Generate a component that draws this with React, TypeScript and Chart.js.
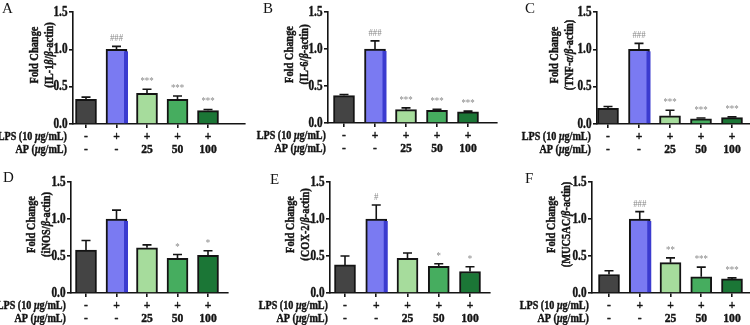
import React, { useEffect, useRef } from "react";
import { Chart, registerables } from "chart.js";

Chart.register(...registerables);

// ---- shared table / axis content ----
const lpsRow = ["-", "+", "+", "+", "+"];
const apRow = ["-", "-", "25", "50", "100"];
const rowHeaders = ["LPS (10 μg/mL)", "AP (μg/mL)"];
const yTickValues = [0, 0.5, 1.0, 1.5];
const yTickLabels = ["0.0", "0.5", "1.0", "1.5"];
const titleLine1 = "Fold Change";
const barColors = ["#444444", "#7a7af2", "#a6dc9c", "#46ad5f", "#1b7636"];

// ---- per-panel values (mean, SEM, significance marks) ----
const panelLetters = ["A", "B", "C", "D", "E", "F"];
const targetLabels = [
  "(IL-1β/β-actin)",
  "(IL-6/β-actin)",
  "(TNF-α/β-actin)",
  "(iNOS/β-actin)",
  "(COX-2/β-actin)",
  "(MUC5AC/β-actin)",
];

const il1bMean = [0.33, 1.0, 0.41, 0.33, 0.18];
const il1bErr = [0.03, 0.04, 0.055, 0.045, 0.015];
const il1bSig = ["", "###", "***", "***", "***"];

const il6Mean = [0.37, 1.0, 0.18, 0.17, 0.15];
const il6Err = [0.015, 0.11, 0.025, 0.015, 0.01];
const il6Sig = ["", "###", "***", "***", "***"];

const tnfMean = [0.21, 1.0, 0.11, 0.07, 0.085];
const tnfErr = [0.025, 0.08, 0.075, 0.01, 0.01];
const tnfSig = ["", "###", "***", "***", "***"];

const inosMean = [0.58, 1.0, 0.61, 0.47, 0.51];
const inosErr = [0.13, 0.12, 0.04, 0.05, 0.06];
const inosSig = ["", "", "", "*", "*"];

const coxMean = [0.38, 1.0, 0.47, 0.36, 0.29];
const coxErr = [0.12, 0.19, 0.07, 0.035, 0.065];
const coxSig = ["", "#", "", "*", "*"];

const mucMean = [0.25, 1.0, 0.41, 0.22, 0.19];
const mucErr = [0.05, 0.1, 0.065, 0.13, 0.015];
const mucSig = ["", "###", "**", "***", "***"];

const means = [il1bMean, il6Mean, tnfMean, inosMean, coxMean, mucMean];
const errs = [il1bErr, il6Err, tnfErr, inosErr, coxErr, mucErr];
const sigs = [il1bSig, il6Sig, tnfSig, inosSig, coxSig, mucSig];

// ---- page geometry of each panel (page pixels) ----
type Frame = {
  left: number; top: number; w: number; h: number;
  axisX: number; axisEnd: number; plotTop: number; plotBottom: number;
  firstX: number; step: number; titleGap: number; headerGap: number;
  letterX: number; letterY: number;
};
const frames: Frame[] = [
  { left: 0, top: 0, w: 250, h: 160, axisX: 73, axisEnd: 245, plotTop: 12, plotBottom: 124, firstX: 86, step: 30.5, titleGap: 38, headerGap: 6, letterX: 2, letterY: 13 },
  { left: 250, top: 0, w: 250, h: 160, axisX: 328, axisEnd: 497, plotTop: 12, plotBottom: 123, firstX: 344, step: 31, titleGap: 38, headerGap: 2, letterX: 13, letterY: 13 },
  { left: 500, top: 0, w: 250, h: 160, axisX: 597, axisEnd: 750, plotTop: 12, plotBottom: 124, firstX: 608, step: 31, titleGap: 42, headerGap: 6, letterX: 25, letterY: 13 },
  { left: 0, top: 160, w: 250, h: 165, axisX: 71, axisEnd: 228, plotTop: 182, plotBottom: 293, firstX: 86, step: 30.5, titleGap: 39, headerGap: 5, letterX: 3, letterY: 22 },
  { left: 250, top: 160, w: 250, h: 165, axisX: 330, axisEnd: 490, plotTop: 182, plotBottom: 293, firstX: 345, step: 31.25, titleGap: 39, headerGap: 2, letterX: 20, letterY: 23.5 },
  { left: 500, top: 160, w: 250, h: 165, axisX: 592, axisEnd: 750, plotTop: 182, plotBottom: 293, firstX: 609, step: 30.75, titleGap: 40, headerGap: 3, letterX: 25, letterY: 23 },
];

const SERIF = '"Liberation Serif", "Times New Roman", serif';
const INK = "#141414";

type TextOpts = {
  size: number; bold?: boolean; italic?: boolean;
  align?: "left" | "center" | "right"; squeeze?: number;
  color?: string; angle?: number; baseline?: CanvasTextBaseline;
};

// Greek letters are set in italic inside the labels.
function splitRuns(s: string) {
  const runs: { t: string; greek: boolean }[] = [];
  let cur = "";
  let curGreek = false;
  for (const ch of s) {
    const g = /[α-ωμ]/.test(ch);
    if (cur && g !== curGreek) {
      runs.push({ t: cur, greek: curGreek });
      cur = "";
    }
    cur += ch;
    curGreek = g;
  }
  if (cur) runs.push({ t: cur, greek: curGreek });
  return runs;
}

// Narrow-set serif text (optionally rotated); bold text gets a hairline outline for weight.
function drawLabel(ctx: CanvasRenderingContext2D, s: string, x: number, y: number, o: TextOpts) {
  const runs = splitRuns(s);
  const fontFor = (greek: boolean) =>
    `${greek || o.italic ? "italic " : "normal "}${o.bold ? "bold" : "normal"} ${o.size}px ${SERIF}`;
  ctx.save();
  let total = 0;
  const widths = runs.map((r) => {
    ctx.font = fontFor(r.greek);
    const w = ctx.measureText(r.t).width;
    total += w;
    return w;
  });
  ctx.translate(x, y);
  if (o.angle) ctx.rotate(o.angle);
  ctx.scale(o.squeeze ?? 1, 1);
  let cx = o.align === "right" ? -total : o.align === "center" ? -total / 2 : 0;
  const color = o.color ?? INK;
  ctx.fillStyle = color;
  ctx.strokeStyle = color;
  ctx.lineWidth = 0.45;
  ctx.lineJoin = "round";
  ctx.textAlign = "left";
  ctx.textBaseline = o.baseline ?? "middle";
  runs.forEach((r, i) => {
    ctx.font = fontFor(r.greek);
    ctx.fillText(r.t, cx, 0);
    if (o.bold) ctx.strokeText(r.t, cx, 0);
    cx += widths[i];
  });
  ctx.restore();
}

function makeDecorPlugin(idx: number, frame: Frame) {
  return {
    id: "panelDecor" + idx,
    afterDatasetsDraw(chart: any) {
      const ctx: CanvasRenderingContext2D = chart.ctx;
      const yScale = chart.scales.y;
      const meta = chart.getDatasetMeta(0);
      const mean = means[idx];
      const err = errs[idx];
      const sig = sigs[idx];
      meta.data.forEach((el: any, i: number) => {
        const { x, y, base, width } = el.getProps(["x", "y", "base", "width"], true);
        // darker right edge on the LPS-only bar
        if (i === 1) {
          ctx.save();
          ctx.fillStyle = "#3b3bcf";
          ctx.fillRect(x + width / 2 - 3, y + 2, 4, base - y - 2);
          ctx.restore();
        }
        const topPx = yScale.getPixelForValue(mean[i] + err[i]);
        ctx.save();
        ctx.strokeStyle = INK;
        ctx.lineWidth = 1.6;
        ctx.beginPath();
        ctx.moveTo(x, y);
        ctx.lineTo(x, topPx);
        ctx.moveTo(x - 4.5, topPx);
        ctx.lineTo(x + 4.5, topPx);
        ctx.stroke();
        ctx.restore();
        if (sig[i]) {
          drawLabel(ctx, sig[i], x, topPx - 5, {
            size: 11, align: "center", squeeze: 0.8, color: "#888888", baseline: "alphabetic",
          });
        }
      });
    },
    afterDraw(chart: any) {
      const ctx: CanvasRenderingContext2D = chart.ctx;
      const area = chart.chartArea;
      const xScale = chart.scales.x;
      const yScale = chart.scales.y;
      // y tick labels
      yTickValues.forEach((v, i) => {
        drawLabel(ctx, yTickLabels[i], area.left - 5.5, yScale.getPixelForValue(v), {
          size: 14, bold: true, align: "right", squeeze: 0.8,
        });
      });
      // treatment table under the axis
      const row1 = area.bottom + 12.5;
      const row2 = area.bottom + 25.5;
      lpsRow.forEach((t, i) => {
        drawLabel(ctx, t, xScale.getPixelForValue(i), row1, { size: 13.5, bold: true, align: "center", squeeze: 0.86 });
      });
      apRow.forEach((t, i) => {
        drawLabel(ctx, t, xScale.getPixelForValue(i), row2, { size: 13.5, bold: true, align: "center", squeeze: 0.86 });
      });
      const hx = area.left - frame.headerGap;
      drawLabel(ctx, rowHeaders[0], hx, row1, { size: 13, bold: true, align: "right", squeeze: 0.78 });
      drawLabel(ctx, rowHeaders[1], hx, row2, { size: 13, bold: true, align: "right", squeeze: 0.78 });
      // rotated two-line axis title
      const cy = (area.top + area.bottom) / 2 - 13;
      drawLabel(ctx, titleLine1, area.left - frame.titleGap, cy, {
        size: 13, bold: true, align: "center", squeeze: 0.8, angle: -Math.PI / 2,
      });
      drawLabel(ctx, targetLabels[idx], area.left - frame.titleGap + 15, cy, {
        size: 13, bold: true, align: "center", squeeze: 0.8, angle: -Math.PI / 2,
      });
      // panel letter
      drawLabel(ctx, panelLetters[idx], frame.letterX, frame.letterY, {
        size: 15, align: "left", baseline: "alphabetic",
      });
    },
  };
}

function Panel({ idx }: { idx: number }) {
  const ref = useRef<HTMLCanvasElement | null>(null);
  const f = frames[idx];
  useEffect(() => {
    if (!ref.current) return;
    const yAxisW = f.axisX - f.left;
    const xAxisH = f.top + f.h - f.plotBottom;
    const padTop = f.plotTop - f.top;
    const padRight = Math.max(0, f.left + f.w - f.axisEnd);
    const xMin = -(f.firstX - f.axisX) / f.step;
    const xMax = (f.axisEnd - f.firstX) / f.step;
    const axisLine = { display: true, color: INK, width: 1.6 };
    const tickGrid = {
      display: true, drawOnChartArea: false, drawTicks: true, tickLength: 4,
      color: INK, lineWidth: 1.6, offset: false,
    };
    const chart = new Chart(ref.current, {
      type: "bar",
      data: {
        datasets: [
          {
            data: means[idx].map((v, i) => ({ x: i, y: v })),
            backgroundColor: barColors,
            borderColor: INK,
            borderWidth: 2,
            borderSkipped: "bottom",
            barThickness: 21,
          },
        ],
      },
      options: {
        animation: false,
        responsive: false,
        events: [],
        layout: { padding: { top: padTop, right: padRight, left: 0, bottom: 0 } },
        plugins: { legend: { display: false }, tooltip: { enabled: false } },
        scales: {
          x: {
            type: "linear",
            min: xMin,
            max: xMax,
            offset: false,
            z: 1,
            afterFit: (s: any) => { s.height = xAxisH; },
            afterBuildTicks: (s: any) => { s.ticks = lpsRow.map((_, i) => ({ value: i })); },
            ticks: { display: false },
            grid: tickGrid,
            border: axisLine,
          },
          y: {
            min: 0,
            max: 1.5,
            z: 1,
            afterFit: (s: any) => { s.width = yAxisW; },
            afterBuildTicks: (s: any) => { s.ticks = yTickValues.map((v) => ({ value: v })); },
            ticks: { display: false },
            grid: tickGrid,
            border: axisLine,
          },
        },
      } as any,
      plugins: [makeDecorPlugin(idx, f)],
    });
    return () => chart.destroy();
  }, [idx]);
  return (
    <canvas
      ref={ref}
      width={f.w}
      height={f.h}
      style={{ position: "absolute", left: f.left, top: f.top, width: f.w, height: f.h }}
    />
  );
}

export default function App() {
  return (
    <div
      style={{
        position: "absolute", left: 0, top: 0, width: 750, height: 325,
        background: "#ffffff", overflow: "hidden",
      }}
    >
      {frames.map((_, i) => (
        <Panel key={i} idx={i} />
      ))}
    </div>
  );
}
